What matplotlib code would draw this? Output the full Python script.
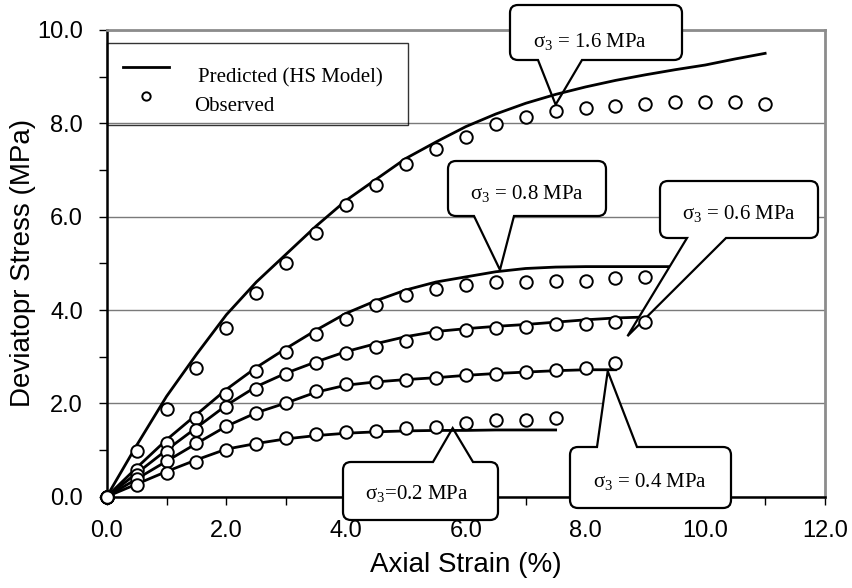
import matplotlib
matplotlib.use("Agg")
import matplotlib.pyplot as plt
from matplotlib.path import Path
from matplotlib.patches import PathPatch
from matplotlib.lines import Line2D
from matplotlib.font_manager import FontProperties
from matplotlib.transforms import Affine2D

plt.rcParams['font.family'] = ['Liberation Sans', 'DejaVu Sans']
plt.rcParams['mathtext.fontset'] = 'custom'
plt.rcParams['mathtext.rm'] = 'Liberation Serif'
plt.rcParams['mathtext.it'] = 'Liberation Serif:italic'

# ---------------- data ----------------
strain = [0.0, 0.5, 1.0, 1.5, 2.0, 2.5, 3.0, 3.5, 4.0, 4.5, 5.0, 5.5,
          6.0, 6.5, 7.0, 7.5, 8.0, 8.5, 9.0, 9.5, 10.0, 10.5, 11.0]

obs_16 = [0.0, 0.97, 1.88, 2.75, 3.62, 4.36, 5.01, 5.66, 6.26, 6.68, 7.13, 7.44,
          7.70, 7.98, 8.14, 8.27, 8.33, 8.38, 8.41, 8.45, 8.45, 8.45, 8.41]
obs_08 = [0.0, 0.58, 1.14, 1.68, 2.20, 2.70, 3.09, 3.49, 3.80, 4.11, 4.32, 4.44,
          4.54, 4.60, 4.59, 4.63, 4.63, 4.68, 4.71]
obs_06 = [0.0, 0.47, 0.95, 1.43, 1.92, 2.30, 2.62, 2.86, 3.07, 3.20, 3.34, 3.51,
          3.57, 3.61, 3.64, 3.70, 3.70, 3.75, 3.75]
obs_04 = [0.0, 0.38, 0.76, 1.14, 1.52, 1.80, 2.01, 2.26, 2.41, 2.46, 2.51, 2.54,
          2.60, 2.63, 2.68, 2.71, 2.76, 2.87]
obs_02 = [0.0, 0.25, 0.51, 0.75, 1.00, 1.13, 1.25, 1.34, 1.39, 1.41, 1.48, 1.50,
          1.57, 1.64, 1.64, 1.69]

pred_16 = [0.0, 1.10, 2.15, 3.05, 3.90, 4.60, 5.20, 5.80, 6.35, 6.80, 7.25, 7.60,
           7.93, 8.20, 8.43, 8.62, 8.78, 8.92, 9.04, 9.15, 9.25, 9.38, 9.50]
pred_08 = [0.0, 0.62, 1.22, 1.76, 2.30, 2.77, 3.18, 3.57, 3.93, 4.20, 4.43, 4.60,
           4.71, 4.82, 4.89, 4.92, 4.93, 4.93, 4.93, 4.93]
pred_06 = [0.0, 0.50, 1.00, 1.48, 1.96, 2.36, 2.65, 2.89, 3.11, 3.28, 3.43, 3.54,
           3.60, 3.65, 3.69, 3.74, 3.79, 3.83, 3.85]
pred_04 = [0.0, 0.38, 0.76, 1.14, 1.51, 1.80, 2.01, 2.24, 2.39, 2.46, 2.51, 2.55,
           2.60, 2.64, 2.67, 2.70, 2.72, 2.72]
pred_02 = [0.0, 0.27, 0.54, 0.79, 1.02, 1.14, 1.24, 1.31, 1.36, 1.39, 1.41, 1.42,
           1.42, 1.43, 1.43, 1.43]

series_labels = ['\u03c3$_\\mathrm{3}$ = 1.6 MPa', '\u03c3$_\\mathrm{3}$ = 0.8 MPa',
                 '\u03c3$_\\mathrm{3}$ = 0.6 MPa', '\u03c3$_\\mathrm{3}$=0.2 MPa',
                 '\u03c3$_\\mathrm{3}$ = 0.4 MPa']
# data points the callouts point to (strain, stress)
callout_tips = [(7.5, 8.40), (6.57, 4.86), (8.70, 3.44), (5.78, 1.47), (8.37, 2.69)]

xticks = [0, 2, 4, 6, 8, 10, 12]
yticks = [0, 2, 4, 6, 8, 10]
xticklabels = ['0.0', '2.0', '4.0', '6.0', '8.0', '10.0', '12.0']
yticklabels = ['0.0', '2.0', '4.0', '6.0', '8.0', '10.0']

# ---------------- figure ----------------
W, H = 853, 588
fig = plt.figure(figsize=(W / 100, H / 100), dpi=100)
L, R, T, B = 106.7, 825.0, 30.0, 496.7
ax = fig.add_axes([L / W, 1 - B / H, (R - L) / W, (B - T) / H])
ax.set_xlim(0, 12)
ax.set_ylim(0, 10)

ax.set_xticks(xticks)
ax.set_xticklabels(xticklabels)
ax.set_yticks(yticks)
ax.set_yticklabels(yticklabels)
ax.set_xticks([1, 3, 5, 7, 9, 11], minor=True)
ax.set_yticks([1, 3, 5, 7, 9], minor=True)
ax.tick_params(which='both', direction='out', length=6, width=1, color='black')
ax.tick_params(axis='x', which='major', labelsize=17, pad=11)
ax.tick_params(axis='y', which='major', labelsize=17, pad=11)
ax.set_axisbelow(True)
ax.yaxis.grid(True, color='#7a7a7a', linewidth=1.0)

for s in ['top', 'right']:
    ax.spines[s].set_color('#8c8c8c')
    ax.spines[s].set_linewidth(2.0)
for s in ['left', 'bottom']:
    ax.spines[s].set_color('black')
    ax.spines[s].set_linewidth(1.8)

ax.set_xlabel('Axial Strain (%)', fontsize=20, labelpad=7)
ax.set_ylabel('Deviatopr Stress (MPa)', fontsize=20, labelpad=1)

n = len
line_kw = dict(color='black', linewidth=2.0, solid_joinstyle='round', zorder=3)
for pred in [pred_16, pred_08, pred_06, pred_04, pred_02]:
    ax.plot(strain[:n(pred)], pred, **line_kw)

mk_kw = dict(linestyle='none', marker='o', markersize=9, markerfacecolor='white',
             markeredgecolor='black', markeredgewidth=1.4, zorder=4, clip_on=False)
for obs in [obs_16, obs_08, obs_06, obs_04, obs_02]:
    ax.plot(strain[:n(obs)], obs, **mk_kw)

# ---------------- legend ----------------
serif15 = FontProperties(family='Liberation Serif', size=15)
h1 = Line2D([], [], color='black', linewidth=2.0)
h2 = Line2D([], [], linestyle='none', marker='o', markersize=6,
            markerfacecolor='white', markeredgecolor='black', markeredgewidth=1.4)
leg = ax.legend([h1, h2], ['Predicted (HS Model)', 'Observed'], prop=serif15,
                loc='upper left', bbox_to_anchor=(0.0, 0.775, 0.4195, 0.197),
                mode='expand', borderaxespad=0, frameon=True, fancybox=False,
                handlelength=2.2, handletextpad=1.2, borderpad=0.8,
                labelspacing=0.45)
fr = leg.get_frame()
fr.set_facecolor('none')
fr.set_edgecolor('black')
fr.set_linewidth(1.0)
for txt, dx in zip(leg.get_texts(), [4, 0]):
    txt.set_transform(txt.get_transform() + Affine2D().translate(dx, -8))

# ---------------- callouts ----------------
# layout in image pixels: box (left, top, right, bottom), tail base (x0, x1), side, text centre
layouts = [
    dict(box=(510, 5, 682, 60), base=(538, 582), side='bottom', txt=(590, 41), z=2.8),
    dict(box=(448, 161, 606, 216), base=(474, 514), side='bottom', txt=(527, 193), z=2.8),
    dict(box=(660, 181, 818, 238), base=(687, 726), side='bottom', txt=(739, 213), z=3.5),
    dict(box=(343, 462, 498, 520), base=(433, 473), side='top', txt=(417, 494), z=2.8),
    dict(box=(570, 447, 731, 508), base=(597, 637), side='top', txt=(650, 481), z=2.8),
]

fig.canvas.draw()


def to_fig(px, py):
    return (px / W, 1 - py / H)


def callout(label, tip, lay):
    l, t, r, b = lay['box']
    b0, b1 = lay['base']
    rr = 8
    tx, ty = ax.transData.transform(tip)
    tip_px = (tx, H - ty)
    verts, codes = [], []

    def mv(p):
        verts.append(p); codes.append(Path.MOVETO)

    def ln(p):
        verts.append(p); codes.append(Path.LINETO)

    def cv(c, p):
        verts.extend([c, p]); codes.extend([Path.CURVE3, Path.CURVE3])

    mv((l + rr, t))
    if lay['side'] == 'top':
        ln((b0, t)); ln(tip_px); ln((b1, t))
    ln((r - rr, t))
    cv((r, t), (r, t + rr))
    ln((r, b - rr))
    cv((r, b), (r - rr, b))
    if lay['side'] == 'bottom':
        ln((b1, b)); ln(tip_px); ln((b0, b))
    ln((l + rr, b))
    cv((l, b), (l, b - rr))
    ln((l, t + rr))
    cv((l, t), (l + rr, t))
    verts.append((l + rr, t)); codes.append(Path.CLOSEPOLY)
    verts_fig = [to_fig(x, y) for x, y in verts]
    patch = PathPatch(Path(verts_fig, codes), facecolor='white', edgecolor='black',
                      linewidth=1.6, transform=fig.transFigure, clip_on=False,
                      zorder=lay['z'], joinstyle='miter')
    ax.add_patch(patch)
    fx, fy = to_fig(*lay['txt'])
    ax.text(fx, fy, label, transform=fig.transFigure, ha='center', va='center',
            fontsize=15, family='Liberation Serif', zorder=lay['z'] + 0.01,
            clip_on=False)


for lab, tip, lay in zip(series_labels, callout_tips, layouts):
    callout(lab, tip, lay)

fig.savefig('out.png', dpi=100)
